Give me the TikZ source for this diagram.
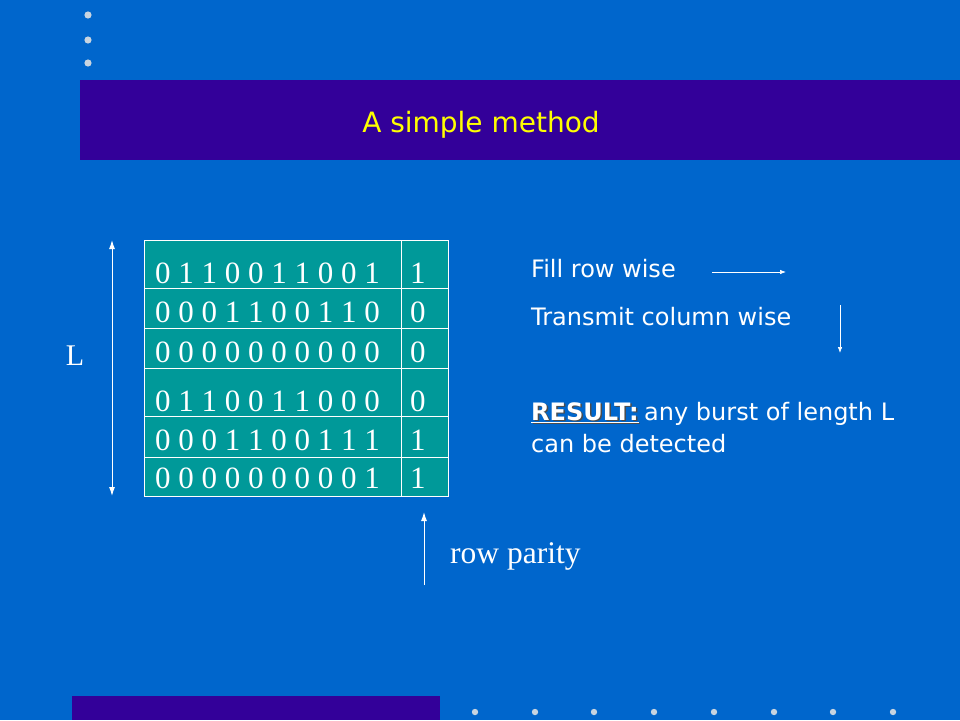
\documentclass[tikz,border=0pt]{standalone}
\usepackage{fontspec}
\usetikzlibrary{arrows.meta}
\setmainfont{Liberation Serif}
\newfontfamily\comicfont{DejaVu Sans}
\definecolor{slideblue}{HTML}{0066CC}
\definecolor{barpurple}{HTML}{330099}
\definecolor{cellteal}{HTML}{009999}
\definecolor{dotgray}{HTML}{C8D4E0}
\definecolor{titleyellow}{HTML}{FFFF00}
\newcommand{\shadowed}[1]{\rlap{\kern1.5pt\raisebox{-1.5pt}{\color{black!70}#1}}#1}
\begin{document}
\begin{tikzpicture}[x=1pt,y=-1pt]
	\tikzset{bit/.style = {anchor=base west, inner sep=0pt, text=white, font=\fontsize{31}{31}\selectfont}}
	\tikzset{note/.style = {anchor=base west, inner sep=0pt, text=white, font=\comicfont\fontsize{24}{24}\selectfont}}
	\tikzset{edge/.style = {->, > = {Latex[length=9pt,width=6pt]}, white, line width=1pt}}
	\tikzset{thinedge/.style = {->, > = {Latex[length=6pt,width=4.5pt]}, white, line width=0.7pt}}
	\tikzset{grid/.style = {white, line width=0.8pt}}
	% Background and bars
	\useasboundingbox (0,0) rectangle (960,720);
	\fill[slideblue] (0,0) rectangle (960,720);
	\fill[barpurple] (80,80) rectangle (960,160);
	\fill[barpurple] (72,696) rectangle (440,720);
	\foreach \y in {15,40,63} \fill[dotgray] (88,\y) circle (3.6);
	\foreach \x in {475,535,594,654,714,774,833,893} \fill[dotgray] (\x,712) circle (3.2);
	\node[inner sep=0pt, text=titleyellow, font=\comicfont\fontsize{28}{28}\selectfont] (title) at (481,125) {A simple method};
	% Draw parity table
	\fill[cellteal] (144,240) rectangle (448,496);
	\draw[grid] (144,240) rectangle (448,496);
	\foreach \y in {288,328,368,416,457} \draw[grid] (144,\y) -- (448,\y);
	\draw[grid] (401,240) -- (401,496);
	\foreach \bits/\pbit/\y [count=\i] in {
		0 1 1 0 0 1 1 0 0 1/1/283, 0 0 0 1 1 0 0 1 1 0/0/322, 0 0 0 0 0 0 0 0 0 0/0/362,
		0 1 1 0 0 1 1 0 0 0/0/411, 0 0 0 1 1 0 0 1 1 1/1/450, 0 0 0 0 0 0 0 0 0 1/1/488} {
		\node[bit] (row\i) at (155,\y) {\bits};
		\node[bit] (par\i) at (410,\y) {\pbit};
	}
	% Burst length
	\coordinate (Ltop) at (112,240);
	\coordinate (Lbot) at (112,496);
	\draw[edge, <->] (Ltop) -- (Lbot);
	\node[inner sep=0pt, text=white, font=\fontsize{30}{30}\selectfont] (L) at (75,356) {L};
	% Row parity label
	\coordinate (rpfoot) at (424,585);
	\coordinate (rptip) at (424,512);
	\draw[edge] (rpfoot) -- (rptip);
	\node[bit, font=\fontsize{31.5}{32}\selectfont] (rowpar) at (450,563) {row parity};
	% Notes on the right
	\node[note] (fill) at (531,277) {Fill row wise};
	\coordinate (fillA) at (712,272);
	\coordinate (fillB) at (786,272);
	\draw[thinedge] (fillA) -- (fillB);
	\node[note] (trans) at (531,325) {Transmit column wise};
	\coordinate (transA) at (840,305);
	\coordinate (transB) at (840,353);
	\draw[thinedge] (transA) -- (transB);
	\node[note, font=\comicfont\bfseries\fontsize{24}{24}\selectfont] (res) at (531,420) {\shadowed{\underline{RESULT:}}};
	\node[note] (burst) at ([xshift=5pt]res.base east) {any burst of length L};
	\node[note] (detect) at (531,452) {can be detected};
\end{tikzpicture}
\end{document}
